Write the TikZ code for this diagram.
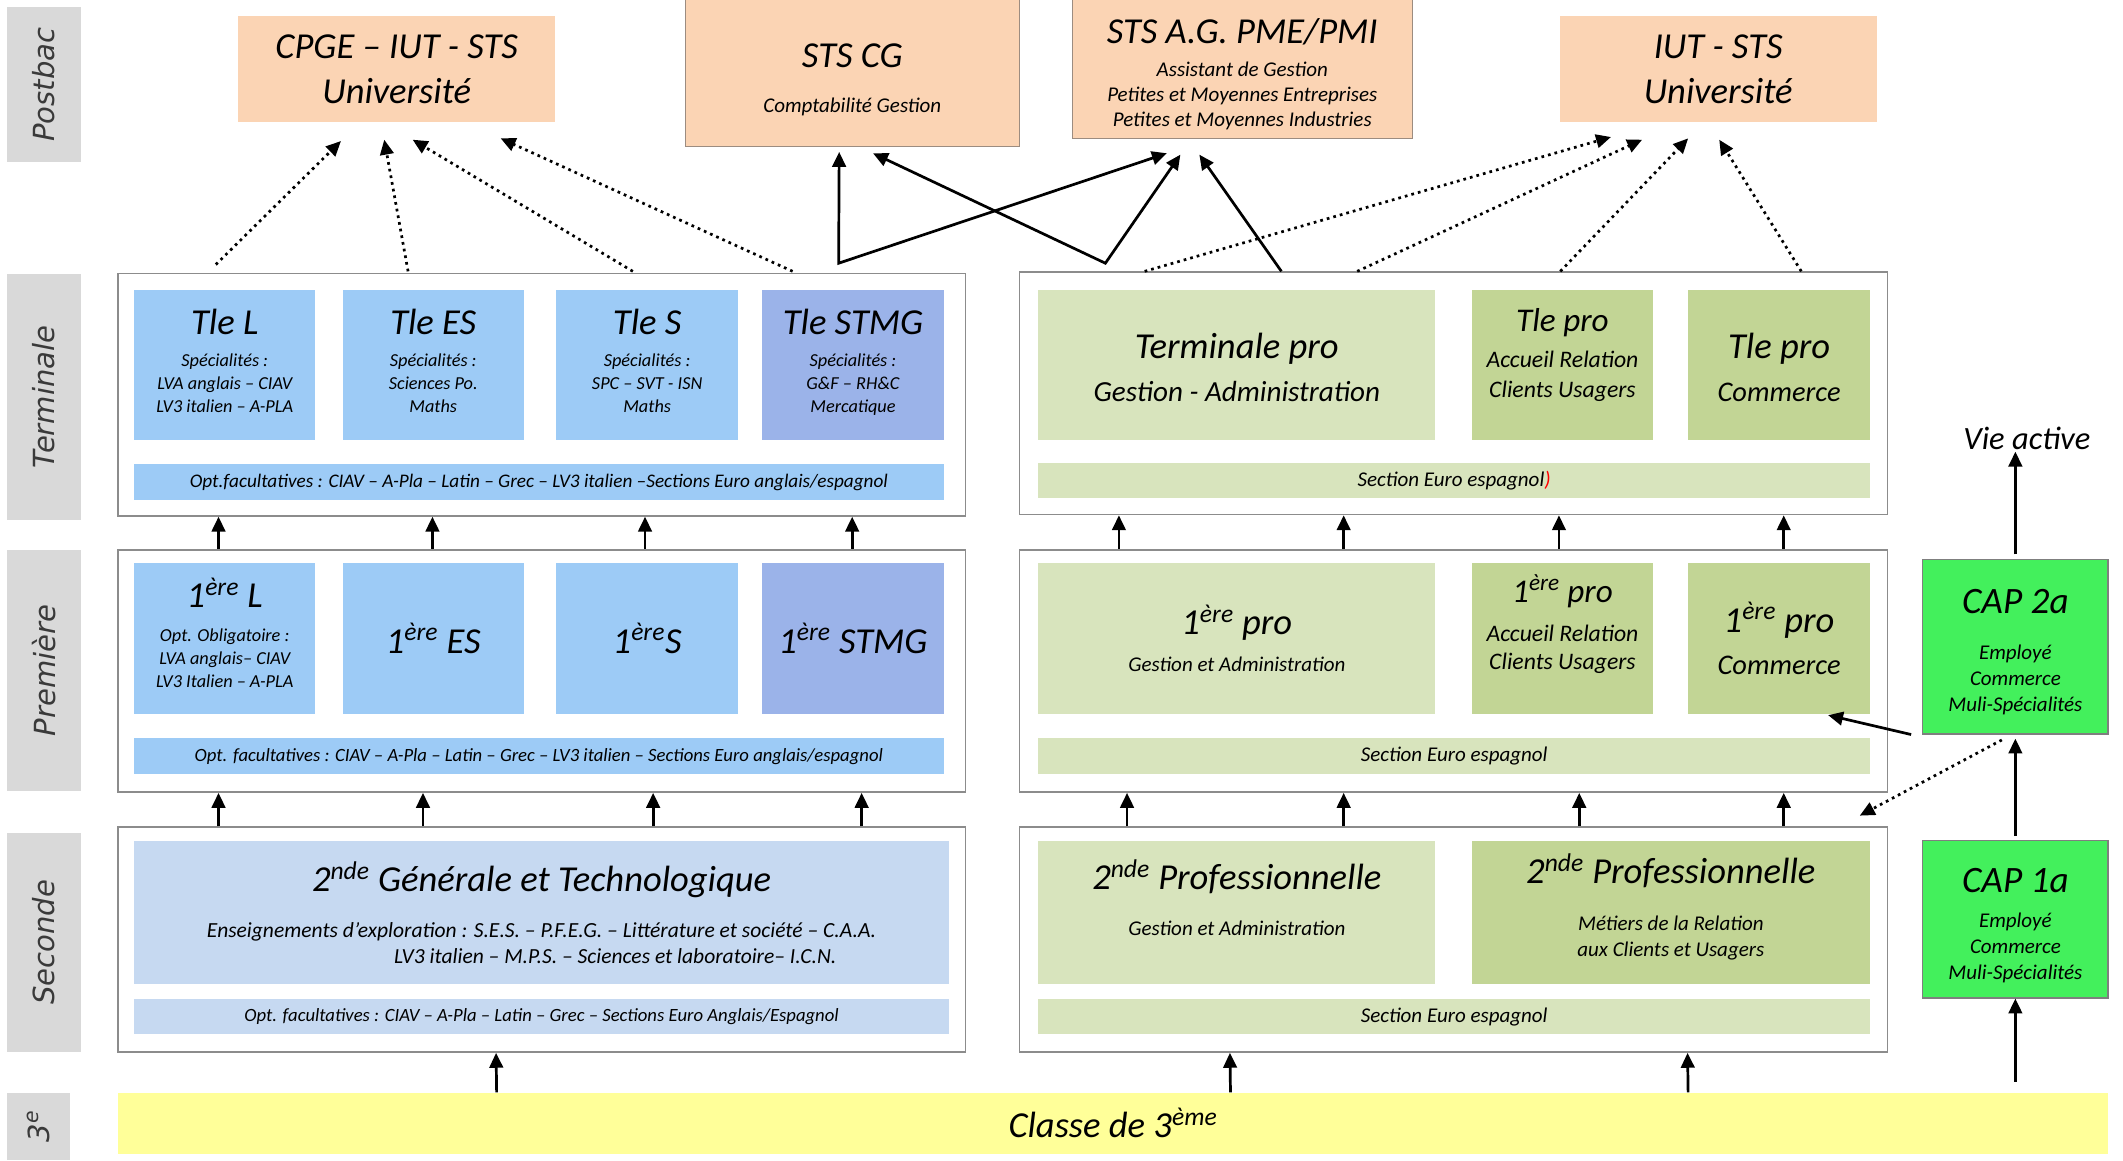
\documentclass[tikz,border=0pt]{standalone}
\usepackage{fontspec}
\setmainfont{Carlito}
\newfontfamily\labelfont{DejaVu Sans}
\usepackage{tikz}
\usetikzlibrary{arrows.meta, calc, positioning}

\definecolor{labelgray}{HTML}{D9D9D9}
\definecolor{labeltext}{HTML}{3A3A3A}
\definecolor{framegray}{HTML}{8C8C8C}
\definecolor{peach}{HTML}{FBD4B4}
\definecolor{postline}{HTML}{9C8C80}
\definecolor{genblue}{HTML}{9DCBF6}
\definecolor{stmgblue}{HTML}{9BB3E9}
\definecolor{secblue}{HTML}{C6D9F1}
\definecolor{prolight}{HTML}{D8E4BD}
\definecolor{prodark}{HTML}{C2D595}
\definecolor{capgreen}{HTML}{43F05C}
\definecolor{capline}{HTML}{7F7F7F}
\definecolor{bacyellow}{HTML}{FFFF99}

\newcommand{\sizeTitle}{\fontsize{27}{32}\selectfont}
\newcommand{\sizeSub}{\fontsize{21.5}{26}\selectfont}
\newcommand{\sizeMid}{\fontsize{17.5}{21}\selectfont}
\newcommand{\sizeNote}{\fontsize{15.5}{19}\selectfont}
\newcommand{\sizeTiny}{\fontsize{13.5}{17}\selectfont}
\newcommand{\topstrut}{\rule{0pt}{30pt}}

\tikzset{
>={Triangle[length=11pt,width=10pt]}, % filled heads
every node/.style={inner sep=0pt},
sidelabel/.style={fill=labelgray, rotate=90, text=labeltext, minimum height=55pt,
  font=\labelfont\itshape\fontsize{21.5}{26}\selectfont},
levelframe/.style={draw=framegray, line width=1.2pt, fill=white},
postbox/.style={fill=peach, align=center, font=\itshape\sizeTitle},
genbox/.style={fill=genblue, minimum width=134pt, minimum height=111pt, align=center, font=\itshape\sizeTiny},
stmgbox/.style={genbox, fill=stmgblue},
genbar/.style={fill=genblue, minimum height=26pt, align=center, font=\itshape\fontsize{13.8}{16}\selectfont},
secbox/.style={fill=secblue, align=center},
gabox/.style={fill=prolight, minimum width=293pt, align=center},
arcubox/.style={fill=prodark, minimum width=134pt, align=center},
eurobar/.style={fill=prolight, minimum width=614pt, minimum height=26pt, font=\itshape\sizeNote},
capbox/.style={fill=capgreen, draw=capline, line width=1pt, minimum width=137pt, align=center, font=\itshape\sizeNote},
uparrow/.style={->, line width=2pt},
dotarrow/.style={->, line width=2pt, dash pattern=on 2pt off 3pt},
}

\begin{document}
\begin{tikzpicture}[x=1pt, y=-1pt]
  \useasboundingbox (0,0) rectangle (1568,857);

  % level labels
  \node[sidelabel, minimum width=115pt] (lpost) at (32.5,62.5) {Postbac};
  \node[sidelabel, minimum width=182pt] (lterm) at (32.5,293) {Terminale};
  \node[sidelabel, minimum width=178pt] (lprem) at (32.5,495) {Première};
  \node[sidelabel, minimum width=162pt] (lsec) at (32.5,696) {Seconde};
  \node[sidelabel, minimum width=50pt, minimum height=47pt] (ltrois) at (28.5,832) {3\textsuperscript{e}};

  % frames
  \node[levelframe, minimum width=626pt, minimum height=179pt] (termG) at (400,291.5) {};
  \node[levelframe, minimum width=641pt, minimum height=179pt] (termP) at (1073.5,290.5) {};
  \node[levelframe, minimum width=626pt, minimum height=179pt] (premG) at (400,495.5) {};
  \node[levelframe, minimum width=641pt, minimum height=179pt] (premP) at (1073.5,495.5) {};
  \node[levelframe, minimum width=626pt, minimum height=166pt] (secG) at (400,694) {};
  \node[levelframe, minimum width=641pt, minimum height=166pt] (secP) at (1073.5,694) {};

  % postbac
  \node[postbox, minimum width=234pt, minimum height=78pt] (cpge) at (293,51) {CPGE – IUT - STS\\[1pt]Université};
  \node[postbox, draw=postline, minimum width=247pt, minimum height=110pt, text depth=3.4pt, font=\itshape\sizeNote] (stscg) at (629.5,53)
    {\topstrut{\sizeTitle STS CG}\\[14pt]Comptabilité Gestion};
  \node[postbox, draw=postline, minimum width=251pt, minimum height=104pt, text depth=4.5pt, font=\itshape\fontsize{15.5}{18.5}\selectfont] (stsag) at (917.5,50)
    {\topstrut{\sizeTitle STS A.G. PME/PMI}\\[5.5pt]Assistant de Gestion\\Petites et Moyennes Entreprises\\Petites et Moyennes Industries};
  \node[postbox, minimum width=234pt, minimum height=78pt] (iut) at (1269,51) {IUT - STS\\[1pt]Université};

  % terminale
  \node[genbox, text depth=6pt] (tleL) at (166,269.5) {{\sizeTitle Tle L}\\[6pt]Spécialités :\\LVA anglais – CIAV\\LV3 italien – A-PLA};
  \node[genbox, text depth=6pt] (tleES) at (320,269.5) {{\sizeTitle Tle ES}\\[6pt]Spécialités :\\Sciences Po.\\Maths};
  \node[genbox, text depth=6pt] (tleS) at (478,269.5) {{\sizeTitle Tle S}\\[6pt]Spécialités :\\SPC – SVT - ISN\\Maths};
  \node[stmgbox, text depth=6pt] (tleSTMG) at (630,269.5) {{\sizeTitle Tle STMG}\\[6pt]Spécialités :\\G\&F – RH\&C\\Mercatique};
  \node[genbar, minimum width=598pt, font=\itshape\fontsize{14.2}{17}\selectfont] (optT) at (398,356)
    {Opt.facultatives : CIAV – A-Pla – Latin – Grec – LV3 italien –Sections Euro anglais/espagnol};

  \node[gabox, minimum height=111pt, text depth=7.2pt, font=\itshape\sizeSub] (tleGA) at (913.5,269.5) {\topstrut{\sizeTitle Terminale pro}\\[6pt]Gestion - Administration};
  \node[arcubox, minimum height=111pt, text depth=18pt, font=\itshape\fontsize{17.5}{22}\selectfont] (tleARCU) at (1154,269.5)
    {{\fontsize{24.5}{29}\selectfont Tle pro}\\[5pt]Accueil Relation\\Clients Usagers};
  \node[arcubox, minimum height=111pt, text depth=7.2pt, font=\itshape\fontsize{21}{26}\selectfont] (tleCom) at (1314,269.5) {\topstrut{\sizeTitle Tle pro}\\[6pt]Commerce};
  \node[eurobar] (euroT) at (1074,355) {Section Euro espagnol{\color{red})}};

  % premiere
  \node[genbox, text depth=8pt] (premL) at (166,471.5) {{\sizeTitle 1\textsuperscript{ère} L}\\[8pt]Opt. Obligatoire :\\LVA anglais– CIAV\\LV3 Italien – A-PLA};
  \node[genbox, font=\itshape\sizeTitle] (premES) at (320,471.5) {1\textsuperscript{ère} ES};
  \node[genbox, font=\itshape\sizeTitle] (premS) at (478,471.5) {1\textsuperscript{ère}S};
  \node[stmgbox, font=\itshape\sizeTitle] (premSTMG) at (630,471.5) {1\textsuperscript{ère} STMG};
  \node[genbar, minimum width=598pt, minimum height=27pt] (optP) at (398,558.5)
    {Opt. facultatives : CIAV – A-Pla – Latin – Grec – LV3 italien – Sections Euro anglais/espagnol};

  \node[gabox, minimum height=111pt, font=\itshape\sizeNote] (premGA) at (913.5,471.5) {{\sizeTitle 1\textsuperscript{ère} pro}\\[8pt]Gestion et Administration};
  \node[arcubox, minimum height=111pt, text depth=24pt, font=\itshape\sizeMid] (premARCU) at (1154,471.5)
    {{\fontsize{24.5}{29}\selectfont 1\textsuperscript{ère} pro}\\[7.5pt]Accueil Relation\\Clients Usagers};
  \node[arcubox, minimum height=111pt, font=\itshape\fontsize{21}{26}\selectfont] (premCom) at (1314,471.5) {{\sizeTitle 1\textsuperscript{ère} pro}\\[5pt]Commerce};
  \node[eurobar, minimum height=27pt] (euroP) at (1074,558.5) {Section Euro espagnol};

  % seconde
  \node[secbox, minimum width=602pt, minimum height=106pt, font=\itshape\fontsize{15.9}{19}\selectfont] (secGT) at (400,674)
    {{\sizeTitle 2\textsuperscript{nde} Générale et Technologique}\\[14.8pt]
     Enseignements d’exploration : S.E.S. – P.F.E.G. – Littérature et société – C.A.A.\\
     \hspace*{109pt}LV3 italien – M.P.S. – Sciences et laboratoire– I.C.N.};
  \node[secbox, minimum width=602pt, minimum height=26pt, font=\itshape\fontsize{13.8}{16}\selectfont] (optS) at (400,751)
    {Opt. facultatives : CIAV – A-Pla – Latin – Grec – Sections Euro Anglais/Espagnol};

  \node[gabox, minimum height=106pt, text depth=22pt, font=\itshape\sizeNote] (secGA) at (913.5,674) {{\sizeTitle 2\textsuperscript{nde} Professionnelle}\\[15pt]Gestion et Administration};
  \node[arcubox, minimum width=294pt, minimum height=106pt, text depth=11pt, font=\itshape\sizeNote] (secMRCU) at (1234,674)
    {{\sizeTitle 2\textsuperscript{nde} Professionnelle}\\[16pt]Métiers de la Relation\\aux Clients et Usagers};
  \node[eurobar] (euroS) at (1074,751) {Section Euro espagnol};

  % troisieme and CAP
  \node[fill=bacyellow, minimum width=1470pt, minimum height=45pt, font=\itshape\sizeTitle] (troisieme) at (822,829.5) {Classe de 3\textsuperscript{ème}};
  \node[capbox, minimum height=129pt, text depth=6.3pt] (cap2) at (1488.5,477.5)
    {\topstrut{\fontsize{27.5}{33}\selectfont CAP 2a}\\[14.8pt]Employé\\Commerce\\Muli-Spécialités};
  \node[capbox, minimum height=116pt, text depth=5.3pt] (cap1) at (1488.5,679)
    {\topstrut{\fontsize{27.5}{33}\selectfont CAP 1a}\\[6.8pt]Employé\\Commerce\\Muli-Spécialités};
  \node[font=\itshape\fontsize{24}{29}\selectfont, inner sep=1pt] (vie) at (1497,324) {Vie active};

  % arrows towards postbac
  \coordinate (vCG) at ([xshift=533pt,yshift=7pt]termG.north west);
  \coordinate (vAG) at ([xshift=64pt,yshift=6pt]termP.north west);
  \foreach \sx/\sy/\ex/\ey in {73/6/76/14, 215/1/108/13, 381/1/129/13, 499/1/194/12}
    \draw[dotarrow] ([xshift=\sx pt,yshift=\sy pt]termG.north west) -- ([xshift=\ex pt,yshift=-\ey pt]cpge.south west);
  \draw[uparrow, <->] ([xshift=114pt,yshift=-4pt]stscg.south west) -- (vCG) -- ([xshift=70pt,yshift=-11pt]stsag.south west);
  \draw[uparrow, <->] ([xshift=139pt,yshift=-5pt]stscg.south west) -- (vAG) -- ([xshift=80pt,yshift=-12pt]stsag.south west);
  \draw[uparrow] ([xshift=194pt]termP.north west) -- ([xshift=94pt,yshift=-12pt]stsag.south west);
  \foreach \sx/\ex/\ey in {93/38/11, 250/61/13, 400/95/12, 578/118/13}
    \draw[dotarrow] ([xshift=\sx pt]termP.north west) -- ([xshift=\ex pt,yshift=-\ey pt]iut.south west);

  % arrows between levels
  \foreach \dx in {75,233,390,543}
    \draw[uparrow] ([xshift=\dx pt]premG.north west) -- ([xshift=\dx pt]termG.south west);
  \foreach \dx in {74,240,399,565}
    \draw[uparrow] ([xshift=\dx pt]premP.north west) -- ([xshift=\dx pt]termP.south west);
  \foreach \dx in {75,226,396,550}
    \draw[uparrow] ([xshift=\dx pt]secG.north west) -- ([xshift=\dx pt]premG.south west);
  \foreach \dx in {80,240,414,565}
    \draw[uparrow] ([xshift=\dx pt]secP.north west) -- ([xshift=\dx pt]premP.south west);
  \draw[uparrow] ([xshift=280pt]troisieme.north west) -- ([xshift=280pt]secG.south west);
  \foreach \tx/\sx in {822/156, 1160/494}
    \draw[uparrow] ([xshift=\tx pt]troisieme.north west) -- ([xshift=\sx pt]secP.south west);

  % CAP path
  \draw[uparrow] ($(cap1.south |- troisieme.north)+(0,-8)$) -- (cap1.south);
  \draw[uparrow] ([yshift=3pt]cap1.north) -- ([yshift=-3pt]cap2.south);
  \draw[uparrow] ([yshift=3pt]cap2.north) -- (cap2.north |- vie.south);
  \draw[uparrow] ([xshift=-8pt]cap2.south west) -- ([xshift=-31pt,yshift=-1pt]premCom.south east);
  \draw[dotarrow] ([xshift=-10pt,yshift=-4pt]cap2.south) -- ([xshift=-21pt,yshift=8pt]secP.north east);
\end{tikzpicture}
\end{document}
